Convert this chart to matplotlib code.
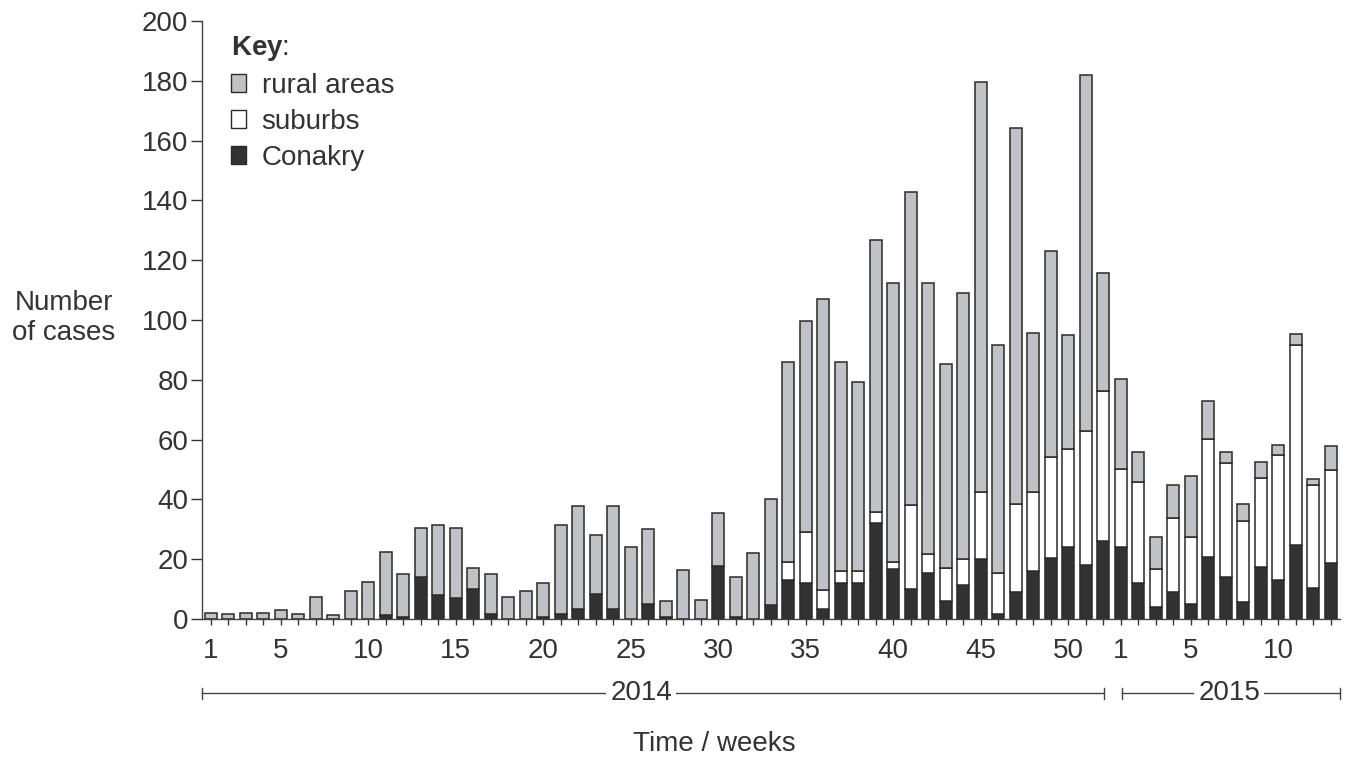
import numpy as np
import matplotlib.pyplot as plt
import matplotlib.transforms as mtransforms
from matplotlib.patches import Patch

plt.rcParams['font.family'] = ['Liberation Sans', 'DejaVu Sans']
plt.rcParams['mathtext.fontset'] = 'custom'
plt.rcParams['mathtext.bf'] = 'Liberation Sans:bold'
plt.rcParams['mathtext.rm'] = 'Liberation Sans'

# cases per week: 2014 weeks 1-52, then 2015 weeks 1-13
conakry = [0, 0, 0, 0, 0, 0, 0, 0, 0, 0,
           1.3, 0.6, 14, 8, 7, 10, 1.7, 0, 0, 0.8,
           1.6, 3.5, 8.2, 3.5, 0, 5, 0.7, 0, 0, 17.8,
           0.8, 0, 4.8, 13, 12.2, 3.2, 12.1, 12.1, 32.2, 16.8,
           9.9, 15.3, 6.1, 11.2, 20.1, 1.7, 9.1, 16, 20.4, 24,
           18, 26,
           24, 12.1, 4.1, 9.1, 5, 20.8, 13.9, 5.8, 17.4, 13.2, 24.9, 10.3, 18.8]
suburbs = [0] * 33 + \
          [5.9, 16.8, 6.5, 4.1, 3.8, 3.5, 2.2, 28.3, 6.3, 11.1,
           8.7, 22.3, 13.7, 29.5, 26.4, 33.7, 32.7, 45, 50.4,
           26.2, 33.6, 12.5, 24.6, 22.4, 39.4, 38.2, 27.1, 29.9, 41.6, 66.9, 34.5, 31.1]
rural = [2, 1.6, 2, 2, 3.1, 1.7, 7.3, 1.3, 9.5, 12.4,
         21, 14.5, 16.3, 23.4, 23.3, 7, 13.5, 7.3, 9.3, 11.3,
         29.7, 34.3, 19.8, 34.3, 24.2, 25.2, 5.3, 16.4, 6.3, 17.7,
         13.4, 22, 35.4, 67.2, 70.6, 97.2, 69.8, 63.2, 91, 93.4,
         104.6, 90.8, 68, 89.1, 137.3, 76.4, 125.7, 53.4, 69.1, 38.4,
         118.8, 39.3,
         30, 10.3, 10.8, 11, 20.4, 12.8, 3.9, 5.5, 5.1, 3.4, 3.5, 1.9, 8.1]

tick_pos = [1, 5, 10, 15, 20, 25, 30, 35, 40, 45, 50, 53, 57, 62]
tick_lab = ['1', '5', '10', '15', '20', '25', '30', '35', '40', '45', '50', '1', '5', '10']

dark = '#323232'
grey = '#c1c2c5'
txt = '#333333'
fs = 20

fig = plt.figure(figsize=(13.49, 7.58), dpi=100)
ax = fig.add_axes([0.15, 0.1834, 0.8434, 0.7889])

x = np.arange(1, len(conakry) + 1)
c = np.array(conakry)
s = np.array(suburbs)
r = np.array(rural)
w = 0.67
ax.bar(x, c, w, color=dark, edgecolor='#2a2a2a', linewidth=1.1)
ax.bar(x, s, w, bottom=c, color='white', edgecolor='#2a2a2a', linewidth=1.1)
ax.bar(x, r, w, bottom=c + s, color=grey, edgecolor='#2a2a2a', linewidth=1.1)

ax.set_xlim(0.52, 65.53)
ax.set_ylim(0, 200)
ax.set_yticks(range(0, 201, 20))
ax.set_xticks(x, minor=True)
ax.set_xticks(tick_pos)
ax.set_xticklabels(tick_lab)
ax.tick_params(axis='y', length=8, width=1, pad=2, labelsize=fs, colors=txt)
ax.tick_params(axis='x', which='both', length=4.5, width=1, pad=9, labelsize=fs, colors=txt)
ax.spines['top'].set_visible(False)
ax.spines['right'].set_visible(False)
for sp in ['left', 'bottom']:
    ax.spines[sp].set_color('#444444')
    ax.spines[sp].set_linewidth(1)

# year brackets under the axis
tr = mtransforms.blended_transform_factory(ax.transData, ax.transAxes)
yb = -0.124
for x0, x1, label, xm in [(0.52, 52.05, '2014', 25.6), (53.07, 65.53, '2015', 59.2)]:
    ax.plot([x0, x1], [yb, yb], color='#444444', lw=1, transform=tr, clip_on=False)
    for xe in (x0, x1):
        ax.plot([xe, xe], [yb - 0.009, yb + 0.009], color='#444444', lw=1,
                transform=tr, clip_on=False)
    ax.text(xm, yb, label, transform=tr, ha='center', va='center', fontsize=fs,
            color=txt, bbox=dict(facecolor='white', edgecolor='none', pad=3))

fig.text(64 / 1349, 1 - 318 / 758, 'Number\nof cases', ha='center', va='center',
         fontsize=fs, color=txt, linespacing=1.15)
fig.text(714 / 1349, 1 - 744 / 758, 'Time / weeks', ha='center', va='center',
         fontsize=fs, color=txt)

handles = [Patch(facecolor=grey, edgecolor='#2a2a2a', label='rural areas'),
           Patch(facecolor='white', edgecolor='#2a2a2a', label='suburbs'),
           Patch(facecolor=dark, edgecolor='#2a2a2a', label='Conakry')]
leg = ax.legend(handles=handles, title=r'$\mathbf{Key}$:', loc='upper left',
                bbox_to_anchor=(231 / 1349, 1 - 34 / 758), bbox_transform=fig.transFigure,
                frameon=False, fontsize=fs, title_fontsize=fs, alignment='left',
                handlelength=0.55, handleheight=0.6, handletextpad=0.55,
                labelspacing=0.36, borderpad=0, borderaxespad=0)
for t in leg.get_texts():
    t.set_color(txt)
leg.get_title().set_color(txt)

fig.savefig('out.png', dpi=100)
